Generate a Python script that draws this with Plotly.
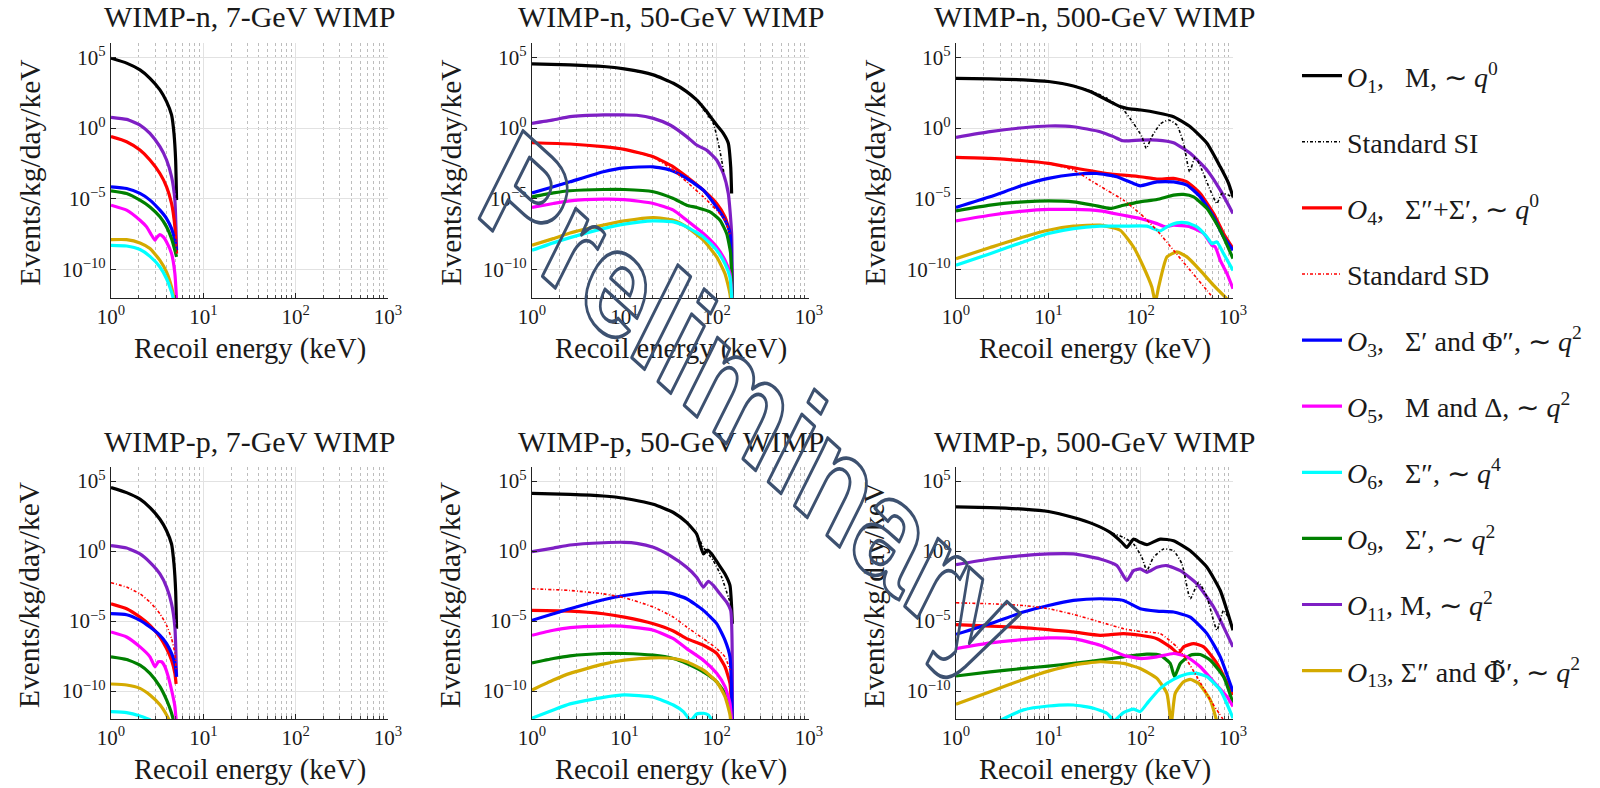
import numpy as np
import plotly.graph_objects as go

# ---------------------------------------------------------------
# Data: log10(recoil energy / keV), log10(rate)
# ---------------------------------------------------------------
SERIES_ORDER = ["O1", "SI", "O4", "SD", "O3", "O5", "O6", "O9", "O11", "O13"]
DRAW_ORDER = ["O1", "O11", "O4", "O3", "O9", "O5", "O13", "O6", "SD", "SI"]

NB = "\u00a0"
PHI_TILDE = "<span style=\"font-family:'DejaVu Serif'\">\u03a6\u0303</span>\u2032"
LABELS = {
    "O1": "<i>O</i><sub>1</sub>," + NB * 3 + "M, \u223c <i>q</i><sup>0</sup>",
    "SI": "Standard SI",
    "O4": "<i>O</i><sub>4</sub>," + NB * 3 + "\u03a3\u2033+\u03a3\u2032, \u223c <i>q</i><sup>0</sup>",
    "SD": "Standard SD",
    "O3": "<i>O</i><sub>3</sub>," + NB * 3 + "\u03a3\u2032 and \u03a6\u2033, \u223c <i>q</i><sup>2</sup>",
    "O5": "<i>O</i><sub>5</sub>," + NB * 3 + "M and \u0394, \u223c <i>q</i><sup>2</sup>",
    "O6": "<i>O</i><sub>6</sub>," + NB * 3 + "\u03a3\u2033, \u223c <i>q</i><sup>4</sup>",
    "O9": "<i>O</i><sub>9</sub>," + NB * 3 + "\u03a3\u2032, \u223c <i>q</i><sup>2</sup>",
    "O11": "<i>O</i><sub>11</sub>, M, \u223c <i>q</i><sup>2</sup>",
    "O13": "<i>O</i><sub>13</sub>, \u03a3\u2033 and " + PHI_TILDE + ", \u223c <i>q</i><sup>2</sup>",
}
COLORS = {
    "O1": "#000000", "SI": "#000000", "O4": "#ff0000", "SD": "#ff0000",
    "O3": "#0000ff", "O5": "#ff00ff", "O6": "#00ffff", "O9": "#008000",
    "O11": "#7e1fc4", "O13": "#d4aa00",
}

# WIMP-n, 7 GeV
N7 = {
    "O1": ([0, 0.169, 0.314, 0.422, 0.530, 0.602, 0.656, 0.682, 0.700, 0.710],
           [4.93, 4.58, 4.10, 3.51, 2.69, 1.86, 0.92, -0.38, -2.26, -5.09]),
    "O11": ([0, 0.169, 0.314, 0.422, 0.530, 0.602, 0.656, 0.692, 0.710],
            [0.755, 0.61, 0.21, -0.38, -1.32, -2.26, -3.44, -5.09, -8.63]),
    "O4": ([0, 0.169, 0.314, 0.422, 0.530, 0.602, 0.656, 0.692, 0.710],
           [-0.61, -0.97, -1.56, -2.26, -3.21, -4.15, -5.33, -6.98, -8.87]),
    "O3": ([0, 0.169, 0.314, 0.422, 0.530, 0.602, 0.656, 0.692, 0.710],
           [-4.15, -4.27, -4.62, -5.09, -5.80, -6.39, -7.10, -7.92, -8.63]),
    "O9": ([0, 0.169, 0.314, 0.422, 0.530, 0.602, 0.656, 0.692, 0.710],
           [-4.43, -4.62, -5.09, -5.57, -6.27, -6.98, -7.81, -8.63, -9.1]),
    "O5": ([0, 0.169, 0.314, 0.386, 0.44, 0.476, 0.494, 0.530, 0.566, 0.602, 0.656, 0.692, 0.710],
           [-5.45, -5.80, -6.51, -6.98, -7.57, -7.92, -7.74, -7.52, -7.69, -8.04, -8.87, -10.28, -12.17]),
    "O13": ([0, 0.169, 0.314, 0.422, 0.530, 0.602, 0.656, 0.682, 0.690],
            [-7.88, -7.88, -8.11, -8.51, -9.34, -10.17, -11.23, -12.05, -13.0]),
    "O6": ([0, 0.169, 0.314, 0.422, 0.530, 0.602, 0.656, 0.674, 0.682],
           [-8.28, -8.33, -8.58, -9.06, -9.81, -10.64, -11.58, -12.05, -13.0]),
}
N7["SI"] = N7["O1"]
N7["SD"] = N7["O4"]

# WIMP-n, 50 GeV
N50 = {
    "O1": ([0, 0.412, 0.773, 1.0, 1.314, 1.531, 1.675, 1.783, 1.856, 1.892, 2.0, 2.072, 2.126, 2.152, 2.162],
           [4.53, 4.46, 4.34, 4.17, 3.75, 3.16, 2.57, 1.98, 1.45, 1.16, 0.21, -0.38, -1.08, -2.74, -4.62]),
    "SI": ([0, 0.412, 0.773, 1.0, 1.314, 1.531, 1.675, 1.783, 1.892, 1.964, 2.018, 2.054, 2.079],
           [4.53, 4.46, 4.34, 4.17, 3.75, 3.16, 2.57, 1.98, 1.0, 0.33, -1.08, -2.26, -3.2]),
    "O11": ([0, 0.231, 0.412, 0.773, 1.0, 1.134, 1.314, 1.495, 1.675, 1.783, 1.892, 2.0, 2.072, 2.126, 2.162, 2.170],
            [0.33, 0.57, 0.80, 0.92, 0.92, 0.90, 0.68, 0.21, -0.61, -1.20, -1.56, -2.26, -3.21, -4.62, -7.45, -13.0]),
    "O4": ([0, 0.412, 0.773, 1.0, 1.314, 1.531, 1.675, 1.856, 2.0, 2.090, 2.144, 2.170],
           [-1.04, -1.13, -1.32, -1.51, -2.03, -2.74, -3.44, -4.39, -5.33, -6.27, -7.45, -13.0]),
    "SD": ([0, 0.412, 0.773, 1.0, 1.314, 1.531, 1.675, 1.856, 2.0, 2.090, 2.144],
           [-1.04, -1.13, -1.32, -1.51, -2.08, -2.97, -3.80, -4.86, -5.80, -6.51, -7.5]),
    "O3": ([0, 0.231, 0.412, 0.773, 1.0, 1.314, 1.495, 1.675, 1.856, 2.0, 2.090, 2.144, 2.170],
           [-4.58, -4.15, -3.80, -3.09, -2.81, -2.74, -2.97, -3.56, -4.39, -5.6, -6.5, -7.4, -13.0]),
    "O9": ([0, 0.231, 0.412, 0.773, 1.0, 1.314, 1.531, 1.675, 1.783, 1.928, 2.036, 2.108, 2.152, 2.170],
           [-4.86, -4.58, -4.43, -4.34, -4.34, -4.50, -4.98, -5.45, -5.61, -5.92, -6.51, -7.45, -8.87, -13.0]),
    "O5": ([0, 0.231, 0.412, 0.773, 1.0, 1.314, 1.531, 1.675, 1.856, 2.0, 2.090, 2.144, 2.170],
           [-5.61, -5.33, -5.14, -5.02, -5.05, -5.33, -5.80, -6.51, -7.45, -8.40, -9.34, -10.28, -13.0]),
    "O13": ([0, 0.231, 0.412, 0.773, 1.0, 1.314, 1.531, 1.675, 1.856, 2.0, 2.090, 2.144, 2.162],
            [-8.28, -7.81, -7.41, -6.86, -6.56, -6.32, -6.51, -6.98, -7.92, -9.10, -10.28, -11.7, -13.0]),
    "O6": ([0, 0.231, 0.412, 0.773, 1.0, 1.314, 1.531, 1.675, 1.856, 2.0, 2.090, 2.144, 2.170],
           [-8.63, -8.11, -7.74, -7.10, -6.79, -6.56, -6.63, -6.98, -7.69, -8.63, -9.58, -10.52, -13.0]),
}

# WIMP-n, 500 GeV
N500 = {
    "O1": ([0, 0.369, 0.730, 1.001, 1.272, 1.453, 1.634, 1.778, 1.850, 2.002, 2.176, 2.356, 2.537, 2.718, 2.862, 2.953, 3.0],
           [3.51, 3.47, 3.40, 3.28, 2.97, 2.57, 1.98, 1.51, 1.39, 1.27, 1.08, 0.80, 0.09, -1.08, -2.74, -3.92, -4.86]),
    "SI": ([0, 0.369, 0.730, 1.001, 1.272, 1.453, 1.634, 1.814, 1.923, 2.013, 2.060, 2.121, 2.212, 2.302, 2.392, 2.465,
            2.530, 2.591, 2.664, 2.754, 2.826, 2.880, 2.953, 3.0],
           [3.51, 3.47, 3.40, 3.28, 2.97, 2.64, 2.10, 1.27, 0.33, -0.61, -1.44, -0.61, 0.28, 0.57, 0.21, -1.08,
            -3.09, -2.03, -2.97, -4.39, -5.33, -4.62, -4.74, -4.9]),
    "O11": ([0, 0.369, 0.730, 1.001, 1.272, 1.561, 1.706, 1.807, 1.995, 2.176, 2.356, 2.537, 2.718, 2.862, 3.0],
            [-0.66, -0.26, 0.02, 0.14, 0.09, -0.26, -0.61, -0.90, -0.85, -0.85, -1.04, -1.79, -2.97, -4.39, -6.04]),
    "O4": ([0, 0.369, 0.730, 1.001, 1.272, 1.634, 1.995, 2.176, 2.356, 2.501, 2.645, 2.790, 2.898, 3.0],
           [-2.08, -2.15, -2.31, -2.50, -2.81, -3.21, -3.44, -3.61, -3.56, -3.80, -4.62, -6.04, -7.45, -8.51]),
    "SD": ([0, 0.369, 0.730, 1.001, 1.272, 1.453, 1.634, 1.814, 1.995, 2.176, 2.356, 2.537, 2.718, 2.808],
           [-2.08, -2.15, -2.31, -2.50, -2.97, -3.68, -4.39, -5.09, -6.04, -7.22, -8.63, -10.05, -11.46, -12.2]),
    "O3": ([0, 0.369, 0.730, 1.001, 1.272, 1.525, 1.742, 1.923, 1.995, 2.176, 2.356, 2.501, 2.645, 2.790, 2.898, 3.0],
           [-5.61, -4.86, -4.03, -3.56, -3.28, -3.21, -3.44, -3.92, -4.08, -3.80, -3.80, -4.03, -4.86, -6.27, -7.69, -8.63]),
    "O9": ([0, 0.369, 0.730, 1.001, 1.272, 1.489, 1.670, 1.814, 1.995, 2.176, 2.356, 2.465, 2.573, 2.718, 2.862, 3.0],
           [-5.85, -5.45, -5.21, -5.14, -5.21, -5.45, -5.68, -5.45, -5.21, -5.05, -4.74, -4.69, -4.86, -5.68, -7.22, -9.22]),
    "O5": ([0, 0.369, 0.730, 1.001, 1.272, 1.561, 1.814, 1.995, 2.176, 2.266, 2.356, 2.537, 2.682, 2.772, 2.808, 2.862, 2.935, 3.0],
           [-6.56, -6.16, -5.87, -5.75, -5.75, -5.85, -6.16, -6.39, -6.75, -6.98, -6.86, -6.98, -7.45, -8.28, -8.40, -9.34, -10.28, -11.34]),
    "O6": ([0, 0.369, 0.730, 1.001, 1.272, 1.561, 1.814, 2.067, 2.212, 2.284, 2.392, 2.501, 2.609, 2.718, 2.772, 2.826, 2.898, 3.0],
           [-9.69, -8.87, -8.04, -7.45, -7.10, -6.93, -6.93, -6.93, -7.26, -6.98, -6.70, -6.70, -6.98, -7.69, -8.16, -8.04, -8.87, -10.05]),
    "O13": ([0, 0.369, 0.730, 1.001, 1.272, 1.561, 1.778, 1.923, 2.031, 2.121, 2.158, 2.194, 2.284, 2.392, 2.501, 2.645, 2.790, 2.898, 2.953],
            [-9.22, -8.44, -7.69, -7.22, -6.93, -6.86, -7.22, -8.40, -9.81, -11.23, -12.3, -11.23, -9.10, -8.75, -9.10, -10.05, -11.11, -11.82, -12.2]),
}

# WIMP-p, 7 GeV
P7 = {
    "O1": ([0, 0.169, 0.314, 0.422, 0.530, 0.602, 0.656, 0.682, 0.700, 0.710],
           [4.53, 4.17, 3.70, 3.10, 2.27, 1.45, 0.50, -0.92, -2.82, -5.55]),
    "O11": ([0, 0.169, 0.314, 0.422, 0.530, 0.602, 0.656, 0.692, 0.710],
            [0.38, 0.21, -0.21, -0.81, -1.64, -2.58, -3.77, -5.43, -8.98]),
    "SD": ([0, 0.169, 0.314, 0.422, 0.530, 0.602, 0.656, 0.692, 0.705],
           [-2.27, -2.58, -3.06, -3.65, -4.48, -5.31, -6.26, -7.32, -8.5]),
    "O4": ([0, 0.169, 0.314, 0.422, 0.530, 0.602, 0.656, 0.692, 0.705],
           [-3.77, -4.12, -4.72, -5.31, -6.14, -6.97, -7.80, -8.74, -9.5]),
    "O3": ([0, 0.169, 0.314, 0.422, 0.530, 0.602, 0.656, 0.692, 0.710],
           [-4.48, -4.55, -4.95, -5.43, -6.02, -6.61, -7.32, -8.03, -8.98]),
    "O5": ([0, 0.169, 0.314, 0.422, 0.476, 0.512, 0.548, 0.584, 0.620, 0.656, 0.692, 0.710],
           [-5.78, -6.14, -6.85, -7.56, -8.27, -7.91, -7.91, -8.27, -8.98, -9.93, -11.1, -12.5]),
    "O9": ([0, 0.169, 0.314, 0.422, 0.530, 0.602, 0.656, 0.692],
           [-7.56, -7.75, -8.15, -8.74, -9.69, -10.64, -11.59, -12.5]),
    "O13": ([0, 0.169, 0.314, 0.422, 0.530, 0.602, 0.656],
            [-9.50, -9.57, -9.81, -10.28, -10.99, -11.71, -12.4]),
    "O6": ([0, 0.169, 0.314, 0.422, 0.465],
           [-11.47, -11.54, -11.78, -12.06, -12.4]),
}
P7["SI"] = P7["O1"]

# WIMP-p, 50 GeV
P50 = {
    "O1": ([0, 0.412, 0.773, 1.0, 1.314, 1.531, 1.675, 1.783, 1.856, 1.899, 1.946, 2.018, 2.090, 2.144, 2.162, 2.170],
           [4.12, 4.05, 3.93, 3.77, 3.34, 2.75, 2.04, 1.21, -0.21, 0.07, -0.21, -0.92, -1.64, -2.46, -4.0, -5.2]),
    "SI": ([0, 0.412, 0.773, 1.0, 1.314, 1.531, 1.675, 1.783, 1.856, 1.964, 2.054, 2.126, 2.152],
           [4.12, 4.05, 3.93, 3.77, 3.34, 2.75, 2.04, 1.21, 0.26, -0.69, -1.87, -3.29, -3.77]),
    "O11": ([0, 0.231, 0.412, 0.773, 1.0, 1.134, 1.314, 1.495, 1.675, 1.783, 1.856, 1.910, 1.964, 2.036, 2.108, 2.152, 2.170],
            [-0.05, 0.21, 0.43, 0.59, 0.62, 0.55, 0.26, -0.33, -1.16, -1.87, -2.58, -2.16, -2.46, -3.06, -3.65, -4.24, -13.0]),
    "SD": ([0, 0.412, 0.773, 1.0, 1.314, 1.531, 1.675, 1.856, 2.0, 2.090, 2.144],
           [-2.70, -2.82, -3.06, -3.34, -4.0, -4.72, -5.43, -6.26, -6.97, -7.56, -8.5]),
    "O3": ([0, 0.231, 0.412, 0.773, 1.0, 1.314, 1.495, 1.675, 1.856, 2.0, 2.090, 2.144, 2.170],
           [-4.95, -4.48, -4.12, -3.48, -3.18, -2.94, -3.01, -3.41, -4.24, -5.19, -6.37, -7.56, -13.0]),
    "O4": ([0, 0.412, 0.773, 1.0, 1.314, 1.531, 1.675, 1.856, 2.0, 2.090, 2.144, 2.170],
           [-4.24, -4.29, -4.48, -4.72, -5.19, -5.71, -6.26, -6.73, -7.32, -8.27, -9.45, -13.0]),
    "O5": ([0, 0.231, 0.412, 0.773, 1.0, 1.314, 1.531, 1.675, 1.856, 2.0, 2.090, 2.144, 2.170],
           [-6.02, -5.66, -5.47, -5.36, -5.38, -5.66, -6.26, -6.97, -7.80, -8.74, -9.69, -10.88, -13.0]),
    "O9": ([0, 0.231, 0.412, 0.773, 1.0, 1.314, 1.531, 1.675, 1.856, 2.0, 2.090, 2.144, 2.170],
           [-7.99, -7.68, -7.49, -7.32, -7.32, -7.44, -7.68, -8.03, -8.63, -9.34, -10.17, -11.11, -13.0]),
    "O13": ([0, 0.231, 0.412, 0.773, 1.0, 1.314, 1.531, 1.675, 1.856, 2.0, 2.090, 2.144, 2.162],
            [-9.93, -9.22, -8.74, -8.08, -7.80, -7.63, -7.68, -7.91, -8.51, -9.34, -10.40, -11.7, -13.0]),
    "O6": ([0, 0.231, 0.412, 0.773, 1.0, 1.314, 1.531, 1.639, 1.718, 1.783, 1.856, 1.910, 1.964],
           [-11.94, -11.35, -10.92, -10.45, -10.28, -10.45, -11.0, -11.47, -12.1, -11.64, -11.59, -11.71, -12.3]),
}

# WIMP-p, 500 GeV
P500 = {
    "O1": ([0, 0.369, 0.730, 1.001, 1.272, 1.489, 1.670, 1.796, 1.850, 1.923, 1.995, 2.067, 2.212, 2.356, 2.537, 2.718, 2.862, 3.0],
           [3.15, 3.10, 2.99, 2.82, 2.39, 1.92, 1.33, 0.62, 0.26, 0.85, 0.62, 0.45, 0.85, 0.73, 0.02, -1.16, -2.82, -5.66]),
    "SI": ([0, 0.369, 0.730, 1.001, 1.272, 1.489, 1.670, 1.814, 1.923, 2.013, 2.067, 2.139, 2.248, 2.356, 2.447, 2.537,
            2.627, 2.718, 2.826, 2.898, 3.0],
           [3.15, 3.10, 2.99, 2.82, 2.39, 1.92, 1.33, 0.97, 0.50, -0.45, -1.40, -0.45, 0.14, 0.02, -0.92, -3.41,
            -2.23, -3.29, -5.66, -4.24, -5.43]),
    "O11": ([0, 0.369, 0.730, 1.001, 1.272, 1.561, 1.742, 1.850, 1.923, 1.995, 2.067, 2.176, 2.284, 2.429, 2.609, 2.790, 3.0],
            [-0.97, -0.57, -0.33, -0.21, -0.21, -0.57, -1.04, -2.11, -1.40, -1.28, -1.52, -1.16, -1.04, -1.40, -2.35, -4.0, -6.85]),
    "SD": ([0, 0.369, 0.730, 1.001, 1.272, 1.561, 1.814, 1.995, 2.212, 2.392, 2.501, 2.609, 2.754, 2.85, 2.92],
           [-3.70, -3.77, -3.89, -4.12, -4.53, -5.07, -5.55, -5.75, -5.90, -6.85, -7.80, -8.98, -10.64, -11.6, -12.3]),
    "O3": ([0, 0.369, 0.730, 1.001, 1.272, 1.561, 1.814, 1.995, 2.176, 2.356, 2.537, 2.718, 2.862, 3.0],
           [-5.95, -5.19, -4.36, -3.89, -3.53, -3.41, -3.53, -4.12, -4.29, -4.36, -4.72, -5.90, -7.56, -10.05]),
    "O4": ([0, 0.369, 0.730, 1.001, 1.272, 1.561, 1.814, 1.995, 2.176, 2.320, 2.411, 2.465, 2.573, 2.682, 2.826, 3.0],
           [-5.26, -5.36, -5.47, -5.62, -5.78, -6.02, -5.90, -6.02, -6.26, -6.85, -7.32, -6.85, -6.61, -6.85, -8.03, -10.28]),
    "O5": ([0, 0.369, 0.730, 1.001, 1.272, 1.561, 1.814, 1.995, 2.176, 2.356, 2.501, 2.645, 2.790, 2.935, 3.0],
           [-6.97, -6.56, -6.33, -6.21, -6.26, -6.73, -7.44, -7.68, -7.56, -7.32, -7.56, -8.27, -9.34, -10.40, -11.11]),
    "O9": ([0, 0.369, 0.730, 1.001, 1.272, 1.561, 1.814, 2.067, 2.212, 2.320, 2.367, 2.429, 2.537, 2.645, 2.754, 2.898, 3.0],
           [-8.93, -8.63, -8.39, -8.22, -8.03, -7.80, -7.56, -7.37, -7.44, -8.03, -8.98, -8.03, -7.44, -7.39, -7.80, -8.98, -10.88]),
    "O13": ([0, 0.369, 0.730, 1.001, 1.272, 1.561, 1.814, 1.995, 2.176, 2.284, 2.331, 2.374, 2.465, 2.537, 2.627, 2.754, 2.826],
            [-10.95, -10.05, -9.17, -8.58, -8.15, -7.91, -8.03, -8.39, -9.10, -10.17, -12.3, -10.17, -9.34, -9.17, -9.45, -10.64, -12.2]),
    "O6": ([0.477, 0.730, 1.001, 1.272, 1.489, 1.634, 1.713, 1.814, 1.923, 1.995, 2.085, 2.212, 2.356, 2.501, 2.609, 2.718, 2.862, 3.0],
           [-12.1, -11.35, -11.07, -11.0, -11.23, -11.59, -12.1, -11.54, -11.30, -11.47, -10.76, -9.81, -9.17, -8.79, -8.74, -8.98, -9.93, -11.94]),
}

PANEL_TITLES = ["WIMP-n, 7-GeV WIMP", "WIMP-n, 50-GeV WIMP", "WIMP-n, 500-GeV WIMP",
                "WIMP-p, 7-GeV WIMP", "WIMP-p, 50-GeV WIMP", "WIMP-p, 500-GeV WIMP"]
PANEL_DATA = [N7, N50, N500, P7, P50, P500]

X_TICKS = [1, 10, 100, 1000]
X_TICKTEXT = ["10<sup>0</sup>", "10<sup>1</sup>", "10<sup>2</sup>", "10<sup>3</sup>"]
Y_TICKS = [1e-10, 1e-5, 1, 1e5]
Y_TICKTEXT = ["10<sup>\u221210</sup>", "10<sup>\u22125</sup>", "10<sup>0</sup>", "10<sup>5</sup>"]
X_MINOR = [m * 10 ** k for k in range(3) for m in range(2, 10)]

# ---------------------------------------------------------------
W, H = 1600, 788
SERIF = "Liberation Serif"
TXT = "#1a1a1a"

# pixel geometry of the panels
COL_X = [(111, 388), (532, 809), (956, 1233)]
ROW_Y = [(43, 298), (467, 719)]

fig = go.Figure()

for k, data in enumerate(PANEL_DATA):
    idx = k + 1
    for s in DRAW_ORDER:
        if s not in data:
            continue
        lx, ly = data[s]
        dotted = s in ("SI", "SD")
        fig.add_trace(go.Scatter(
            x=10 ** np.array(lx, dtype=float),
            y=10 ** np.array(ly, dtype=float),
            mode="lines",
            name=LABELS[s],
            legendgroup=s,
            legendrank=SERIES_ORDER.index(s) + 1,
            showlegend=(idx == 1),
            line=dict(color=COLORS[s], width=1.6 if dotted else 3.2,
                      dash="3px,2px,1px,2px" if dotted else "solid",
                      shape="spline", smoothing=0.5),
            xaxis="x" if idx == 1 else f"x{idx}",
            yaxis="y" if idx == 1 else f"y{idx}",
            hoverinfo="skip",
        ))

layout = dict(
    width=W, height=H,
    margin=dict(l=0, r=0, t=0, b=0),
    paper_bgcolor="white", plot_bgcolor="white",
    template="none",
    font=dict(family=SERIF, color=TXT),
    showlegend=True,
    hovermode=False,
    legend=dict(
        x=1297 / W, y=1 - 51 / H, xanchor="left", yanchor="top",
        font=dict(family=SERIF, size=28, color=TXT),
        tracegroupgap=26.7, itemwidth=40, traceorder="grouped",
        bgcolor="rgba(0,0,0,0)",
    ),
)

annotations = []
for k in range(6):
    idx = k + 1
    r, c = divmod(k, 3)
    x0, x1 = COL_X[c]
    y0, y1 = ROW_Y[r]
    xd = [x0 / W, x1 / W]
    yd = [1 - y1 / H, 1 - y0 / H]
    xname = "xaxis" if idx == 1 else f"xaxis{idx}"
    yname = "yaxis" if idx == 1 else f"yaxis{idx}"
    layout[xname] = dict(
        type="log", range=[0, 3], domain=xd,
        anchor="y" if idx == 1 else f"y{idx}",
        tickvals=X_TICKS, ticktext=X_TICKTEXT,
        ticks="inside", ticklen=5, tickcolor="#222",
        showline=True, linecolor="#222", linewidth=1.2,
        showgrid=True, gridcolor="#e2e2e2", gridwidth=1,
        zeroline=False,
        minor=dict(tickvals=X_MINOR, ticks="inside", ticklen=3, tickcolor="#444",
                   showgrid=True, gridcolor="#bdbdbd", griddash="dot", gridwidth=1),
        tickfont=dict(family=SERIF, size=21, color=TXT),
    )
    layout[yname] = dict(
        type="log", range=[-12, 6], domain=yd,
        anchor="x" if idx == 1 else f"x{idx}",
        tickvals=Y_TICKS, ticktext=Y_TICKTEXT,
        ticks="inside", ticklen=5, tickcolor="#222",
        showline=True, linecolor="#222", linewidth=1.2,
        showgrid=True, gridcolor="#e2e2e2", gridwidth=1,
        zeroline=False,
        tickfont=dict(family=SERIF, size=21, color=TXT),
    )
    xc = (x0 + x1) / 2
    annotations.append(dict(
        text=PANEL_TITLES[k], x=xc / W, y=1 - (17 if r == 0 else 441) / H,
        xref="paper", yref="paper", xanchor="center", yanchor="middle",
        showarrow=False, font=dict(family=SERIF, size=30, color=TXT)))
    annotations.append(dict(
        text="Recoil energy (keV)", x=xc / W, y=1 - (y1 + 51) / H,
        xref="paper", yref="paper", xanchor="center", yanchor="middle",
        showarrow=False, font=dict(family=SERIF, size=28.5, color=TXT)))
    annotations.append(dict(
        text="Events/kg/day/keV", x=(x0 - 82) / W, y=1 - ((y0 + y1) / 2 + 2) / H,
        xref="paper", yref="paper", xanchor="center", yanchor="middle",
        textangle=-90, showarrow=False, font=dict(family=SERIF, size=29.5, color=TXT)))

# watermark
annotations.append(dict(
    text="Preliminary", x=752 / W, y=1 - 402 / H, xref="paper", yref="paper",
    xanchor="center", yanchor="middle", textangle=34, showarrow=False,
    font=dict(family="Liberation Sans", size=114,
              color="rgba(61,81,112,0.30)", weight="bold")))

layout["annotations"] = annotations
fig.update_layout(**layout)

POST = r"""
(function(){
  var gd = document.querySelector('.plotly-graph-div');
  if (!gd) return;
  var texts = gd.querySelectorAll('text.annotation-text');
  texts.forEach(function(t){
    if (t.textContent !== 'Preliminary') return;
    t.style.fill = 'none';
    t.style.stroke = '#3d5170';
    t.style.strokeWidth = '2.7px';
    t.style.strokeLinejoin = 'round';
    var g = t.closest('g.annotation-text-g');
    if (!g) return;
    var tr = g.getAttribute('transform') || '';
    var m = tr.match(/rotate\(\s*([-\d.]+)[ ,]+([-\d.]+)[ ,]+([-\d.]+)\s*\)/);
    if (!m) return;
    var cx = parseFloat(m[2]), cy = parseFloat(m[3]);
    g.setAttribute('transform', 'translate(' + cx + ',' + cy + ') scale(1,1.35) rotate(34) translate(' + (-cx) + ',' + (-cy) + ')');
  });
})();
"""

fig.write_html("out.html", post_script=POST)
